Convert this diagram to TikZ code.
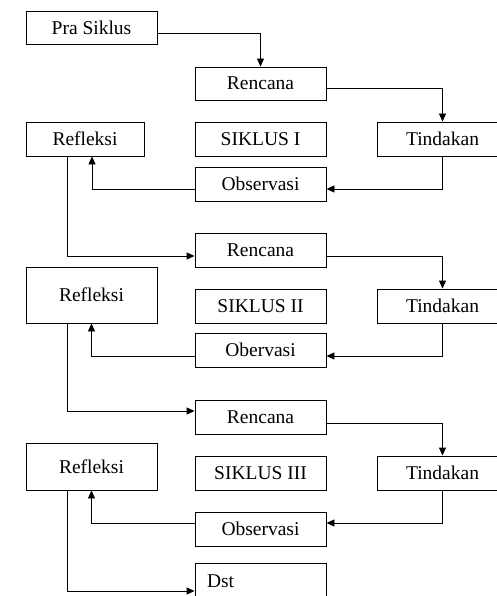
\documentclass[tikz,border=0pt]{standalone}
\usepackage{fontspec}
\setmainfont{Liberation Serif}
\usetikzlibrary{arrows.meta}
\begin{document}
\begin{tikzpicture}[x=1pt,y=-1pt,
  box/.style={draw,line width=0.9pt,inner sep=0pt,minimum width=131pt,minimum height=34pt,font=\fontsize{19.5}{22}\selectfont},
  conn/.style={line width=0.9pt},
  arr/.style={conn,-{Triangle[length=8pt,width=7pt]}}]
\useasboundingbox (0,0) rectangle (497,596);
\fill[white] (0,0) rectangle (497,596);
% cycle 1
\node[box,minimum height=33pt] (pra) at (91.5,27.5) {Pra Siklus};
\node[box,minimum height=33pt] (ren1) at (260.5,83.5) {Rencana};
\node[box,minimum width=118pt] (ref1) at (85,139) {Refleksi};
\node[box] (sik1) at (260.5,139) {SIKLUS I};
\node[box] (tin1) at (442.5,139) {Tindakan};
\node[box] (obs1) at (260.5,184) {Observasi};
% cycle 2
\node[box] (ren2) at (260.5,250) {Rencana};
\node[box,minimum height=56pt] (ref2) at (91.5,295) {Refleksi};
\node[box] (sik2) at (260.5,306) {SIKLUS II};
\node[box] (tin2) at (442.5,306) {Tindakan};
\node[box] (obs2) at (260.5,350) {Obervasi};
% cycle 3
\node[box] (ren3) at (260.5,417) {Rencana};
\node[box,minimum height=47pt] (ref3) at (91.5,466.5) {Refleksi};
\node[box] (sik3) at (260.5,473) {SIKLUS III};
\node[box] (tin3) at (442.5,473) {Tindakan};
\node[box] (obs3) at (260.5,529) {Observasi};
\node[box,minimum height=36pt,text width=107pt,align=left,inner xsep=12pt] (dst) at (260.5,581) {Dst};
% connectors
\draw[arr] ([yshift=-5.5pt]pra.east) -| (ren1.north);
\draw[arr] ([yshift=-4.5pt]ren1.east) -| (tin1.north);
\draw[arr] (tin1.south) |- ([yshift=-5pt]obs1.east);
\draw[arr] ([yshift=-5pt]obs1.west) -| ([xshift=7pt]ref1.south);
\draw[arr] ([xshift=-18pt]ref1.south) |- ([yshift=-6pt]ren2.west);
\draw[arr] ([yshift=-6pt]ren2.east) -| (tin2.north);
\draw[arr] (tin2.south) |- ([yshift=-6pt]obs2.east);
\draw[arr] ([yshift=-6pt]obs2.west) -| (ref2.south);
\draw[arr] ([xshift=-24.5pt]ref2.south) |- ([yshift=6pt]ren3.west);
\draw[arr] ([yshift=-6pt]ren3.east) -| (tin3.north);
\draw[arr] (tin3.south) |- ([yshift=6pt]obs3.east);
\draw[arr] ([yshift=6pt]obs3.west) -| (ref3.south);
\draw[arr] ([xshift=-24.5pt]ref3.south) |- ([yshift=-10pt]dst.west);
\end{tikzpicture}
\end{document}
